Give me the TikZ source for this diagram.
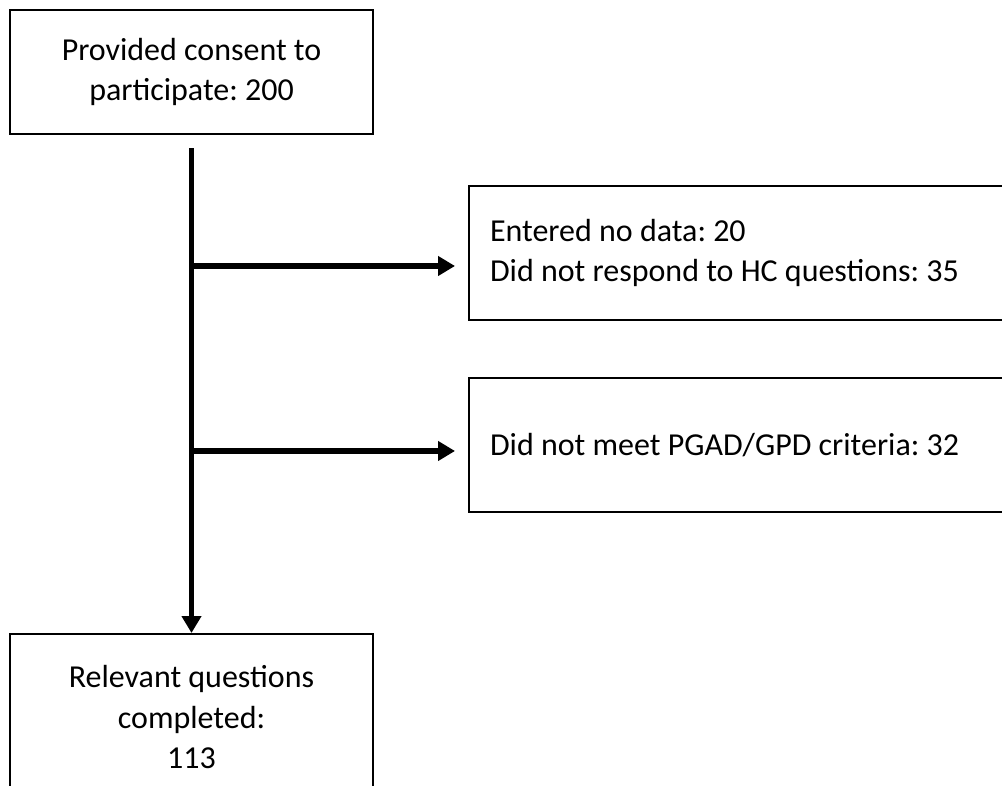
\documentclass[tikz,border=0pt]{standalone}
\usepackage{fontspec}
\setmainfont{Carlito}
\frenchspacing
\usetikzlibrary{arrows.meta,positioning}
\begin{document}
\begin{tikzpicture}[
  box/.style={draw, line width=0.6pt, inner sep=0pt, font=\fontsize{9.1}{11.6}\selectfont},
  flow/.style={line width=1.7pt, -{Triangle[length=0.17cm,width=0.19cm]}}
]
  % Rahmen
  \useasboundingbox (0,0) rectangle (10.02,-7.86);
  \clip (0,0) rectangle (10.02,-7.86);

  % Kaesten
  \node[box, minimum width=3.63cm, minimum height=1.24cm, align=center] (consent) at (1.915,-0.72)
    {Provided consent to\\participate: 200};
  \node[box, minimum width=5.6cm, minimum height=1.34cm, anchor=north west, align=flush left,
        text width=5.6cm-0.21cm, inner xsep=0.21cm] (nodata) at (4.68,-1.85)
    {Entered no data: 20\\Did not respond to HC questions: 35};
  \node[box, minimum width=5.6cm, minimum height=1.34cm, anchor=north west, align=flush left,
        text width=5.6cm-0.21cm, inner xsep=0.21cm] (criteria) at (4.68,-3.77)
    {Did not meet PGAD/GPD criteria: 32};
  \node[box, minimum width=3.63cm, minimum height=1.66cm, anchor=north, align=center] (relevant) at (1.915,-6.33)
    {Relevant questions\\completed:\\113};

  % Pfeile
  \coordinate (start) at ([yshift=-0.16cm]consent.south);
  \coordinate (b1) at (1.915,-2.66);
  \coordinate (b2) at (1.915,-4.51);
  \draw[flow, shorten <=-0.85pt] (start) -- (relevant.north);
  \draw[flow, shorten >=0.13cm] (b1) -- (b1 -| nodata.west);
  \draw[flow, shorten >=0.13cm] (b2) -- (b2 -| criteria.west);
\end{tikzpicture}
\end{document}
